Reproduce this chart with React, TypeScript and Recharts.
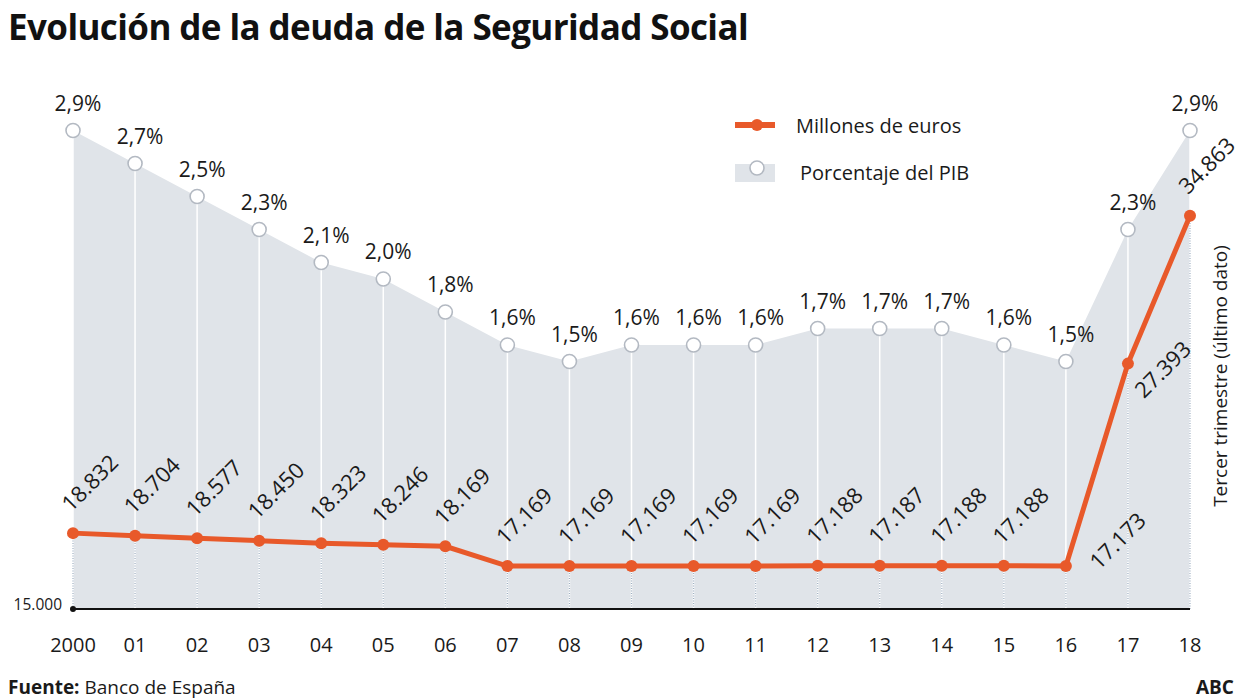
import {
  ComposedChart,
  Area,
  Line,
  XAxis,
  YAxis,
  ReferenceLine,
  ReferenceDot,
} from 'recharts';

const years = ['2000', '01', '02', '03', '04', '05', '06', '07', '08', '09', '10', '11', '12', '13', '14', '15', '16', '17', '18'];
const euros = [18832, 18704, 18577, 18450, 18323, 18246, 18169, 17169, 17169, 17169, 17169, 17169, 17188, 17187, 17188, 17188, 17173, 27393, 34863];
const pib = [2.9, 2.7, 2.5, 2.3, 2.1, 2.0, 1.8, 1.6, 1.5, 1.6, 1.6, 1.6, 1.7, 1.7, 1.7, 1.6, 1.5, 2.3, 2.9];

const data = years.map((year, i) => ({ year, eur: euros[i], pct: pib[i] }));

const ORANGE = '#e8592a';
const AREA = '#e0e4e9';
const RING = '#b3b9c2';
const FONT = '"Open Sans", sans-serif';

const fmtEur = (v: number) => v.toLocaleString('de-DE');
const fmtPct = (v: number) => v.toFixed(1).replace('.', ',') + '%';

// label offsets for the rotated euro labels (a few sit beside the point)
const eurOffset = (i: number) => {
  if (i === 16) return [51, -26];
  if (i === 17) return [34, 5];
  return [16, -51];
};

const EuroLabel = (props: any) => {
  const { x, y, value, index } = props;
  if (x == null || y == null) return null;
  const [dx, dy] = eurOffset(index);
  const lx = x + dx;
  const ly = y + dy;
  return (
    <text
      x={lx}
      y={ly}
      transform={`rotate(-45 ${lx} ${ly})`}
      textAnchor="middle"
      dominantBaseline="central"
      fontSize={22}
      fontFamily={FONT}
      fill="#1a1a1a"
    >
      {fmtEur(value)}
    </text>
  );
};

const PctLabel = (props: any) => {
  const { x, y, value } = props;
  if (x == null || y == null) return null;
  return (
    <text x={x + 5} y={y - 20} textAnchor="middle" fontSize={21} fontFamily={FONT} fill="#1a1a1a">
      {fmtPct(value)}
    </text>
  );
};

const PctDot = (props: any) => {
  const { cx, cy, index } = props;
  return <circle key={`pd${index}`} cx={cx} cy={cy} r={7} fill="#fff" stroke={RING} strokeWidth={1.6} />;
};

const LegendBox = () => (
  <svg width={300} height={90} style={{ position: 'absolute', left: 730, top: 108 }}>
    <line x1={5} y1={17} x2={45} y2={17} stroke={ORANGE} strokeWidth={6} />
    <circle cx={27} cy={17} r={6} fill={ORANGE} />
    <text x={66} y={17} dominantBaseline="central" fontSize={20} fontFamily={FONT} fill="#1a1a1a">
      Millones de euros
    </text>
    <rect x={5} y={56} width={40} height={18} fill={AREA} />
    <circle cx={27} cy={60} r={7} fill="#fff" stroke={RING} strokeWidth={1.6} />
    <text x={70} y={64} dominantBaseline="central" fontSize={20} fontFamily={FONT} fill="#1a1a1a">
      Porcentaje del PIB
    </text>
  </svg>
);

const BaseTick = (props: any) => {
  const { x, y } = props;
  return (
    <text x={x - 3} y={y - 5} textAnchor="end" dominantBaseline="central" fontSize={15.5} fontFamily={FONT} fill="#1a1a1a">
      15.000
    </text>
  );
};

export default function App() {
  return (
    <div style={{ position: 'absolute', left: 0, top: 0, width: 1248, height: 698, background: '#fff', fontFamily: FONT }}>
      <div
        style={{
          position: 'absolute',
          left: 8,
          top: 3,
          fontSize: 35,
          fontWeight: 700,
          letterSpacing: -0.6,
          color: '#111',
          whiteSpace: 'nowrap',
        }}
      >
        Evolución de la deuda de la Seguridad Social
      </div>

      <ComposedChart width={1248} height={698} data={data} margin={{ top: 114, right: 58, left: 0, bottom: 0 }}>
        <XAxis
          dataKey="year"
          scale="point"
          height={89}
          tickLine={false}
          tickMargin={23}
          axisLine={{ stroke: '#111', strokeWidth: 2 }}
          tick={{ fontSize: 20, fill: '#1a1a1a', fontFamily: FONT }}
          interval={0}
        />
        <YAxis
          yAxisId="eur"
          domain={[15000, 40000]}
          ticks={[15000]}
          width={73}
          axisLine={false}
          tickLine={false}
          tick={<BaseTick />}
        />
        <YAxis yAxisId="pct" domain={[0, 3]} hide orientation="right" />

        <Area
          yAxisId="pct"
          dataKey="pct"
          type="linear"
          fill={AREA}
          fillOpacity={1}
          stroke="none"
          dot={PctDot}
          activeDot={false}
          label={PctLabel}
          isAnimationActive={false}
        />

        {years.map((y, i) => (
          <ReferenceLine
            key={`w${y}`}
            yAxisId="pct"
            segment={[{ x: y, y: 0 }, { x: y, y: pib[i] }]}
            stroke="#ffffff"
            strokeWidth={1.5}
          />
        ))}
        {years.map((y, i) => (
          <ReferenceLine
            key={`g${y}`}
            yAxisId="eur"
            segment={[{ x: y, y: 15000 }, { x: y, y: euros[i] }]}
            stroke="#9fb0c2"
            strokeWidth={1.2}
            strokeDasharray="1 1.5"
          />
        ))}

        <ReferenceDot yAxisId="eur" x="2000" y={15000} r={3} fill="#111" stroke="none" />

        <Line
          yAxisId="eur"
          dataKey="eur"
          type="linear"
          stroke={ORANGE}
          strokeWidth={5}
          dot={{ r: 6, fill: ORANGE, stroke: 'none' }}
          activeDot={false}
          label={EuroLabel}
          isAnimationActive={false}
        />
      </ComposedChart>

      <LegendBox />

      <div
        style={{
          position: 'absolute',
          left: 1220,
          top: 376,
          transform: 'translate(-50%, -50%) rotate(-90deg)',
          whiteSpace: 'nowrap',
          fontSize: 19,
          color: '#1a1a1a',
        }}
      >
        Tercer trimestre (último dato)
      </div>

      <div style={{ position: 'absolute', left: 8, top: 674, fontSize: 19, color: '#1a1a1a', whiteSpace: 'nowrap' }}>
        <b>Fuente:</b> Banco de España
      </div>
      <div style={{ position: 'absolute', left: 1196, top: 674, fontSize: 19, fontWeight: 700, color: '#1a1a1a' }}>ABC</div>
    </div>
  );
}
